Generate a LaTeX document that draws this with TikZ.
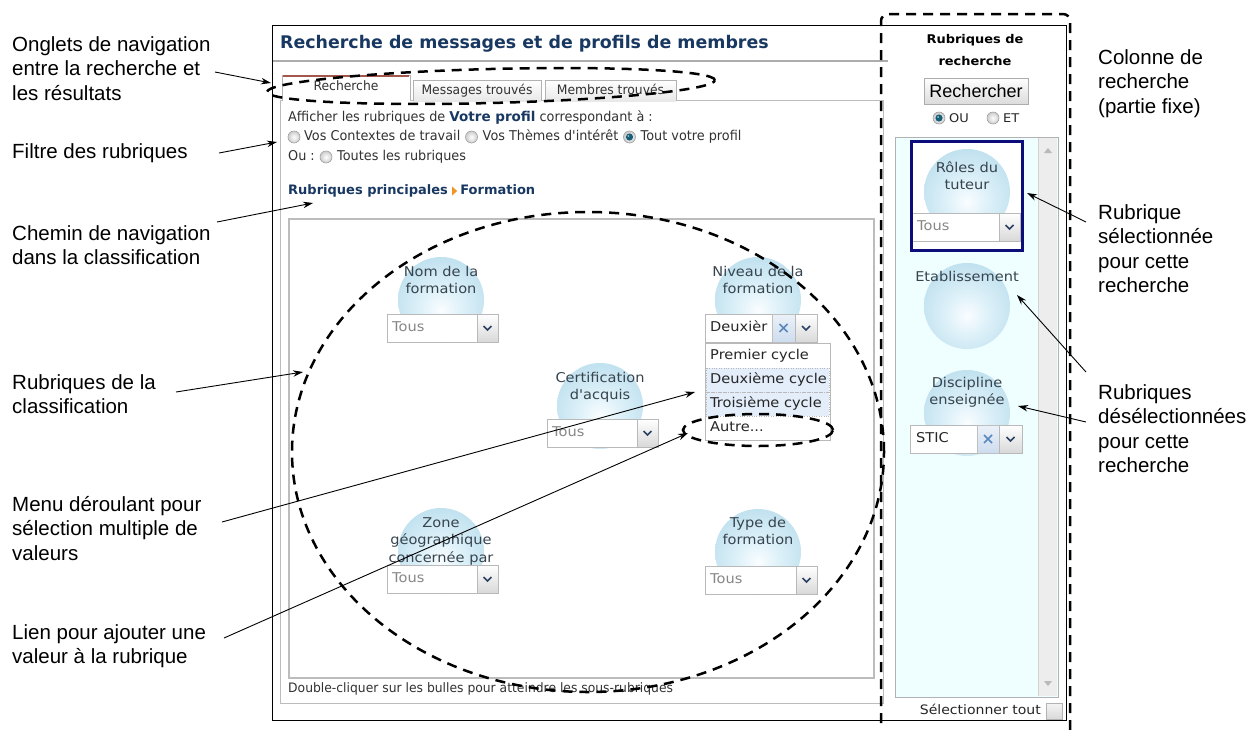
\documentclass[tikz,border=0pt]{standalone}
\usepackage{fontspec}
\setmainfont{Liberation Sans}
\newfontfamily\verd{DejaVu Sans}
\newfontfamily\verdw{DejaVu Sans}[FakeStretch=1.08]
\newfontfamily\taho{DejaVu Sans}[FakeStretch=0.95]
\newfontfamily\tahob{DejaVu Sans Bold}[FakeStretch=1.0]
\newfontfamily\arialf{Liberation Sans}
\usetikzlibrary{arrows.meta,calc}
\definecolor{navytxt}{RGB}{24,56,98}
\definecolor{uitxt}{RGB}{50,50,50}
\definecolor{bubtxt}{RGB}{55,68,78}
\definecolor{bubout}{RGB}{158,207,227}
\definecolor{bubin}{RGB}{222,241,249}
\definecolor{bubhi}{RGB}{250,253,255}
\definecolor{panelgray}{RGB}{188,188,188}
\definecolor{listbg}{RGB}{239,254,255}
\definecolor{selnavy}{RGB}{12,12,122}
\definecolor{chev}{RGB}{45,65,100}
\definecolor{xblue}{RGB}{90,135,190}
\definecolor{xbtn}{RGB}{205,220,238}
\definecolor{hilite}{RGB}{228,237,250}
\definecolor{tabred}{RGB}{140,45,30}
\definecolor{orangetri}{RGB}{240,150,40}
\definecolor{radiodot}{RGB}{25,95,120}
\definecolor{combotxt}{RGB}{135,135,135}
\pgfdeclareradialshading{bubshade}{\pgfpoint{0bp}{-6bp}}{color(0bp)=(bubhi); color(12bp)=(bubin); color(48bp)=(bubout); color(70bp)=(bubout)}
\newcommand{\bubble}[1]{\shade[shading=bubshade] (#1) circle[radius=43pt];}
\newcommand{\combobox}[3]{\draw[gray!55, fill=white, line width=0.7pt] (#1,#2) rectangle ++(#3,28);}
\newcommand{\dropbtn}[3]{%
  \shade[top color=white, bottom color=gray!30] (#1,#2) rectangle ++(#3,28);
  \draw[gray!55, line width=0.7pt] (#1,#2) rectangle ++(#3,28);
  \draw[chev, line width=1.7pt] ($(#1,#2)+(#3/2-4,12)$) -- ++(4,4) -- ++(4,-4);}
\newcommand{\xbutton}[3]{%
  \shade[top color=xbtn!40, bottom color=xbtn] (#1,#2) rectangle ++(#3,28);
  \draw[gray!50, line width=0.7pt] (#1,#2) rectangle ++(#3,28);
  \draw[xblue, line width=1.5pt] ($(#1,#2)+(#3/2-4,10)$) -- ++(8,8) ($(#1,#2)+(#3/2+4,10)$) -- ++(-8,8);}
\newcommand{\radiooff}[1]{\shade[inner color=white, outer color=gray!40] (#1) circle[radius=6pt];
  \draw[gray!75, line width=0.6pt] (#1) circle[radius=6pt];}
\newcommand{\radioon}[1]{\radiooff{#1}\fill[radiodot] (#1) circle[radius=3.6pt];
  \fill[white, opacity=.6] ($(#1)+(-1,-1)$) circle[radius=1pt];}
\begin{document}
\begin{tikzpicture}[x=1pt,y=-1pt,
  annot/.style={font=\arialf\fontsize{20.5}{24.5}\selectfont, align=left, anchor=north west, inner sep=0pt, text=black},
  callout/.style={line width=0.9pt, -{Stealth[length=10pt,width=6.5pt]}},
  bigdash/.style={line width=2.5pt, dash pattern=on 10pt off 7pt},
  uitext/.style={font=\taho\fontsize{13.5}{15}\selectfont, text=uitxt, anchor=west, inner sep=0pt, text height=9.5pt, text depth=2.5pt},
  tabtext/.style={uitext, font=\taho\fontsize{13}{15}\selectfont, anchor=center},
  navybold/.style={uitext, font=\tahob\fontsize{13}{15}\selectfont, text=navytxt},
  bublabel/.style={font=\verdw\fontsize{13.5}{17.5}\selectfont, text=bubtxt, align=center, anchor=north, inner sep=0pt},
  combotext/.style={font=\verdw\fontsize{13.5}{15}\selectfont, text=combotxt, anchor=west, inner sep=0pt, text height=9.5pt, text depth=2.5pt},
  listtext/.style={combotext, text=black!85},
  smalltext/.style={font=\verdw\fontsize{12}{13}\selectfont, text=black!85, inner sep=0pt, text height=8.5pt, text depth=2pt},
]
\useasboundingbox (0,0) rectangle (1250,729);
\fill[white] (0,0) rectangle (1250,729);

% ---------- screenshot frame ----------
\draw[line width=0.8pt] (272,25) rectangle (1066,720);
\node[font=\verd\bfseries\fontsize{17.4}{20}\selectfont, text=navytxt, anchor=west, inner sep=0pt] (title) at (280,44) {Recherche de messages et de profils de membres};
\draw[gray!65, line width=1.4pt] (273,61) -- (888,61);

% content panel and tabs
\draw[panelgray, fill=white, line width=0.8pt] (280,100) rectangle (883,703);
\draw[gray!60, top color=white, bottom color=gray!18, line width=0.7pt] (413,101) -- (413,80) -- (541,80) -- (541,101);
\node[tabtext] (tab2) at (477,91) {Messages trouvés};
\draw[gray!60, top color=white, bottom color=gray!18, line width=0.7pt] (545,101) -- (545,80) -- (676,80) -- (676,101);
\node[tabtext] (tab3) at (610.5,91) {Membres trouvés};
\fill[white] (282,75) rectangle (410,102);
\draw[gray!60, line width=0.7pt] (282,101) -- (282,75) -- (410,75) -- (410,101);
\draw[tabred!80, line width=1.4pt] (283,76) -- (409,76);
\node[tabtext] (tab1) at (346,87) {Recherche};

% filters
\node[uitext] (f1) at (288,118) {Afficher les rubriques de {\tahob\color{navytxt}Votre profil} correspondant à :};
\radiooff{294,137}
\node[uitext] (r1) at (304,137) {Vos Contextes de travail};
\coordinate (r2c) at ($(r1.east)+(11,0)$);
\radiooff{r2c}
\node[uitext] (r2) at ($(r2c)+(11,0)$) {Vos Thèmes d'intérêt};
\coordinate (r3c) at ($(r2.east)+(11,0)$);
\radioon{r3c}
\node[uitext] (r3) at ($(r3c)+(11,0)$) {Tout votre profil};
\node[uitext] (ou) at (288,157) {Ou :};
\coordinate (r4c) at ($(ou.east)+(11,0)$);
\radiooff{r4c}
\node[uitext] (r4) at ($(r4c)+(11,0)$) {Toutes les rubriques};

% breadcrumb
\node[navybold] (bc1) at (288,191) {Rubriques principales};
\coordinate (tri) at ($(bc1.east)+(4,0)$);
\fill[orangetri] ($(tri)+(0,-4.5)$) -- ($(tri)+(5,0)$) -- ($(tri)+(0,4.5)$) -- cycle;
\node[navybold] (bc2) at ($(tri)+(8,0)$) {Formation};

% bubble area
\draw[panelgray, line width=1.6pt] (289,219) rectangle (874,678);
\node[uitext, font=\taho\fontsize{13}{15}\selectfont] (hint) at (288,689) {Double-cliquer sur les bulles pour atteindre les sous-rubriques};

% bubble: Nom de la formation
\bubble{441,300}
\node[bublabel] (b1) at (441,266) {Nom de la\\formation};
\combobox{387}{314}{111}
\node[combotext] (c1) at (392,328) {Tous};
\dropbtn{477}{314}{21}

% bubble: Niveau de la formation
\bubble{758,300}
\node[bublabel] (b2) at (758,266) {Niveau de la\\formation};
\combobox{705}{314}{112}
\node[listtext] (c2) at (710,328) {Deuxièr};
\xbutton{772}{314}{23}
\dropbtn{795}{314}{22}
\draw[gray!55, fill=white, line width=0.7pt] (705,343) rectangle (830,440);
\fill[hilite] (706,368) rectangle (829,416);
\draw[gray!55, dotted] (706,368) rectangle (829,392);
\draw[gray!55, dotted] (706,392) rectangle (829,416);
\node[listtext] (l1) at (710,356) {Premier cycle};
\node[listtext] (l2) at (710,380) {Deuxième cycle};
\node[listtext] (l3) at (710,404) {Troisième cycle};
\node[listtext] (l4) at (710,428) {Autre...};

% bubble: Certification d'acquis
\bubble{600,406}
\node[bublabel] (b3) at (600,372) {Certification\\d'acquis};
\combobox{547}{419}{111}
\node[combotext] (c3) at (552,433) {Tous};
\dropbtn{637}{419}{21}

% bubble: Zone geographique
\bubble{441,551}
\node[bublabel] (b4) at (441,517) {Zone\\géographique\\concernée par};
\combobox{387}{565}{111}
\node[combotext] (c4) at (392,579) {Tous};
\dropbtn{477}{565}{21}

% bubble: Type de formation
\bubble{758,552}
\node[bublabel] (b5) at (758,517) {Type de\\formation};
\combobox{705}{566}{112}
\node[combotext] (c5) at (710,580) {Tous};
\dropbtn{796}{566}{21}

% dashed highlights
\draw[bigdash] (588,452) ellipse[x radius=296pt, y radius=240pt];
\draw[bigdash, rotate around={1.5:(491,86)}] (491,86) ellipse[x radius=224pt, y radius=17pt];
\draw[bigdash] (758,430) ellipse[x radius=75pt, y radius=16pt];

% ---------- right column ----------
\node[smalltext, font=\verdw\bfseries\fontsize{12}{13}\selectfont, text=black] (rc1) at (975,40) {Rubriques de};
\node[smalltext, font=\verdw\bfseries\fontsize{12}{13}\selectfont, text=black] (rc2) at (975,62) {recherche};
\shade[top color=white, bottom color=gray!28] (924,78) rectangle (1028,104);
\draw[gray!65, line width=0.7pt] (924,78) rectangle (1028,104);
\node[font=\arialf\fontsize{18}{20}\selectfont, inner sep=0pt] (btn) at (976,91) {Rechercher};
\radioon{939,118}
\node[smalltext, anchor=west] (ouL) at (949,119) {OU};
\radiooff{993,118}
\node[smalltext, anchor=west] (etL) at (1003,119) {ET};

\draw[gray!60, fill=listbg, line width=0.8pt] (895,137) rectangle (1058,697);
\fill[gray!14] (1038,138) rectangle (1057,696);
\draw[gray!35] (1038,138) -- (1038,696);
\fill[gray!55] (1044,153) -- (1048,148) -- (1052,153) -- cycle;
\fill[gray!55] (1044,681) -- (1048,686) -- (1052,681) -- cycle;

% selected rubric
\fill[white] (911,141) rectangle (1022,250);
\bubble{967,192}
\node[bublabel] (s1) at (967,161) {Rôles du\\tuteur};
\combobox{912}{213}{108}
\node[combotext] (sc1) at (917,227) {Tous};
\dropbtn{999}{213}{21}
\draw[selnavy, line width=3pt] (911,141) rectangle (1022,250);

% deselected rubrics
\bubble{967,306}
\node[bublabel] (s2) at (967,271) {Etablissement};
\bubble{967,413}
\node[bublabel] (s3) at (967,377) {Discipline\\enseignée};
\combobox{910}{425}{112}
\node[listtext] (sc3) at (916,439) {STIC};
\xbutton{977}{425}{22}
\dropbtn{999}{425}{23}

\node[smalltext, font=\verdw\fontsize{13}{14}\selectfont, anchor=east] (selall) at (1041,711) {Sélectionner tout};
\shade[top color=gray!8, bottom color=gray!30] (1046,703) rectangle (1062,719);
\draw[gray!60, line width=0.7pt] (1046,703) rectangle (1062,719);

\draw[bigdash, rounded corners=7pt] (881,740) -- (881,14) -- (1070,14) -- (1070,740);

% ---------- annotations ----------
\node[annot] (n1) at (12,36) {Onglets de navigation\\entre la recherche et\\les résultats};
\node[annot] (n2) at (12,143) {Filtre des rubriques};
\node[annot] (n3) at (12,225) {Chemin de navigation\\dans la classification};
\node[annot] (n4) at (12,374) {Rubriques de la\\classification};
\node[annot] (n5) at (12,496) {Menu déroulant pour\\sélection multiple de\\valeurs};
\node[annot] (n6) at (12,624) {Lien pour ajouter une\\valeur à la rubrique};
\node[annot] (m1) at (1098,49) {Colonne de\\recherche\\(partie fixe)};
\node[annot] (m2) at (1098,204) {Rubrique\\sélectionnée\\pour cette\\recherche};
\node[annot] (m3) at (1098,384) {Rubriques\\désélectionnées\\pour cette\\recherche};

\coordinate (a1s) at (215,72);   \coordinate (a1e) at (271,83);
\coordinate (a2s) at (219,153);  \coordinate (a2e) at (277,142);
\coordinate (a3s) at (217,222);  \coordinate (a3e) at (313,203);
\coordinate (a4s) at (176,392);  \coordinate (a4e) at (303,372);
\coordinate (a5s) at (222,522);  \coordinate (a5e) at (695,392);
\coordinate (a6s) at (224,638);  \coordinate (a6e) at (688,433);
\coordinate (b1s) at (1086,222); \coordinate (b1e) at (1027,193);
\coordinate (b2s) at (1086,372); \coordinate (b2e) at (1017,295);
\coordinate (b3s) at (1086,422); \coordinate (b3e) at (1018,406);
\foreach \p in {a1,a2,a3,a4,a5,a6,b1,b2,b3} \draw[callout] (\p s) -- (\p e);
\end{tikzpicture}
\end{document}
